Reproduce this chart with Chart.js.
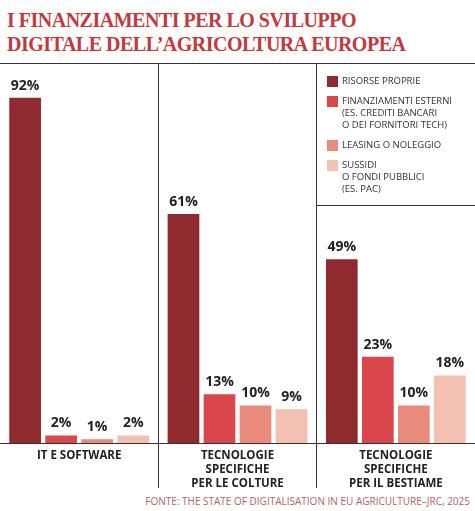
<!DOCTYPE html>
<html><head><meta charset="utf-8">
<script src="https://cdn.jsdelivr.net/npm/chart.js@4"></script>
<style>
body{margin:0;width:475px;height:511px;background:#fff;position:relative;overflow:hidden;font-family:"Open Sans",sans-serif}
#title{position:absolute;left:7px;top:8px;font:bold 20px/24px "Liberation Serif",serif;color:#c2393e;letter-spacing:-0.5px}
#top{position:absolute;left:0;top:63px;width:475px;border-top:1px solid #333}
#wrap{position:absolute;left:0;top:64px;width:475px;height:428px}
#legend{position:absolute;left:327px;top:75px;font-size:9.5px;line-height:12px;color:#333}
.it{position:relative;padding-left:15px;margin-bottom:8px}
.sw{position:absolute;left:0;top:1px;width:11px;height:11px}
#hl{position:absolute;left:316px;top:205px;width:159px;border-top:1px solid #333}
#src{position:absolute;right:5px;top:494px;font-size:10px;color:#b3646c}
</style></head><body>
<div id="title">I FINANZIAMENTI PER LO SVILUPPO<br>DIGITALE DELL’AGRICOLTURA EUROPEA</div>
<div id="top"></div>
<div id="wrap"><canvas id="c"></canvas></div>
<div id="legend"></div>
<div id="hl"></div>
<div id="src">FONTE: THE STATE OF DIGITALISATION IN EU AGRICULTURE–JRC, 2025</div>
<script>
const categories=[["IT E SOFTWARE"],["TECNOLOGIE","SPECIFICHE","PER LE COLTURE"],["TECNOLOGIE","SPECIFICHE","PER IL BESTIAME"]];
const seriesNames=[["RISORSE PROPRIE"],["FINANZIAMENTI ESTERNI","(ES. CREDITI BANCARI","O DEI FORNITORI TECH)"],["LEASING O NOLEGGIO"],["SUSSIDI","O FONDI PUBBLICI","(ES. PAC)"]];
const risorseProprie=[92,61,49];
const finanziamentiEsterni=[2,13,23];
const leasing=[1,10,10];
const sussidi=[2,9,18];
const colors=["#8f2b2f","#d9474c","#e88a7c","#f3c1b1"];
const values=[risorseProprie,finanziamentiEsterni,leasing,sussidi];
const leg=document.getElementById('legend');
seriesNames.forEach((n,i)=>{const d=document.createElement('div');d.className='it';d.innerHTML='<span class="sw" style="background:'+colors[i]+'"></span>'+n.join('<br>');leg.appendChild(d);});
const labelPlugin={id:'lbl',afterDatasetsDraw(ch){const ctx=ch.ctx;ctx.save();ctx.font='bold 14px "Open Sans"';ctx.fillStyle='#222';ctx.textAlign='center';ctx.textBaseline='bottom';
ch.data.datasets.forEach((ds,i)=>{ch.getDatasetMeta(i).data.forEach((b,j)=>{ctx.fillText(ds.data[j]+'%',b.x,b.y-5);});});
ctx.font='bold 11.5px "Open Sans"';ctx.textBaseline='top';const xs=ch.scales.x,bot=ch.chartArea.bottom;
ch.data.labels.forEach((l,j)=>{const x=xs.getPixelForValue(j);l.forEach((t,k)=>ctx.fillText(t,x,bot+7+k*14));});
ctx.restore();}};
new Chart(document.getElementById('c'),{type:'bar',
data:{labels:categories,datasets:values.map((v,i)=>({label:seriesNames[i].join(' '),data:v,backgroundColor:colors[i]}))},
options:{responsive:true,maintainAspectRatio:false,animation:false,
layout:{padding:{left:0,right:0,top:0,bottom:4}},
datasets:{bar:{categoryPercentage:0.91,barPercentage:0.88}},
plugins:{legend:{display:false},tooltip:{enabled:false}},
scales:{y:{display:false,min:0,max:101},
x:{grid:{offset:true,color:'#333',lineWidth:1,tickLength:45,drawOnChartArea:true},border:{color:'#333',width:1},
ticks:{display:false}}}},
plugins:[labelPlugin]});
</script></body></html>
